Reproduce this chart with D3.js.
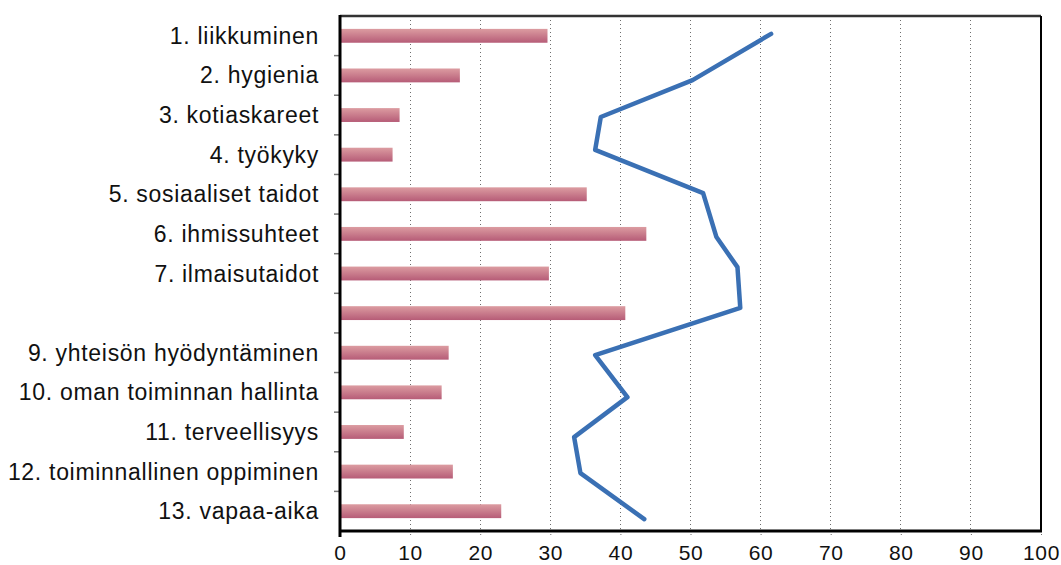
<!DOCTYPE html>
<html>
<head>
<meta charset="utf-8">
<script src="https://cdn.jsdelivr.net/npm/d3@7/dist/d3.min.js"></script>
<style>
  html, body { margin: 0; padding: 0; background: #fff; }
  svg { display: block; }
  text { font-family: "Liberation Sans", Arial, sans-serif; fill: #111; }
</style>
</head>
<body>
<svg id="chart" width="1061" height="565"></svg>
<script>
const categories = [
  "1. liikkuminen", "2. hygienia", "3. kotiaskareet", "4. työkyky",
  "5. sosiaaliset taidot", "6. ihmissuhteet", "7. ilmaisutaidot", "",
  "9. yhteisön hyödyntäminen", "10. oman toiminnan hallinta",
  "11. terveellisyys", "12. toiminnallinen oppiminen", "13. vapaa-aika"
];
const barValues = [29.6, 17.1, 8.5, 7.5, 35.2, 43.7, 29.8, 40.7, 15.5, 14.5, 9.1, 16.1, 23.0];
const lineValues = [61.5, 50.3, 37.2, 36.4, 51.8, 53.7, 56.7, 57.1, 36.4, 41.0, 33.4, 34.3, 43.4];
// vertical position of each line point, in category units (1 = first row)
const lineRows = [0.95, 2.12, 3.05, 3.88, 4.97, 6.08, 6.84, 7.87, 9.06, 10.12, 11.13, 12.04, 13.2];
const xTicks = [0, 10, 20, 30, 40, 50, 60, 70, 80, 90, 100];

const svg = d3.select("#chart");
const m = { left: 340, top: 16, right: 1041, bottom: 531 };

const x = d3.scaleLinear().domain([0, 100]).range([m.left, m.right]);
const y = d3.scaleBand().domain(categories.map((c, i) => i))
  .range([m.top, m.bottom]).paddingInner(0.65).paddingOuter(0.325);
const yRow = d3.scaleLinear().domain([0.5, categories.length + 0.5]).range([m.top, m.bottom]);

const defs = svg.append("defs");
const grad = defs.append("linearGradient").attr("id", "barGrad")
  .attr("x1", 0).attr("y1", 0).attr("x2", 0).attr("y2", 1);
grad.append("stop").attr("offset", "0%").attr("stop-color", "#dc9ca1");
grad.append("stop").attr("offset", "100%").attr("stop-color", "#b65c77");

// gridlines
svg.append("g").selectAll("line").data(xTicks.filter(t => t > 0 && t < 100)).join("line")
  .attr("x1", d => x(d)).attr("x2", d => x(d))
  .attr("y1", m.top).attr("y2", m.bottom)
  .attr("stroke", "#6e6e6e").attr("stroke-width", 1).attr("stroke-dasharray", "1,3")
  .attr("shape-rendering", "crispEdges");

// bars
svg.append("g").selectAll("rect").data(barValues).join("rect")
  .attr("x", x(0)).attr("y", (d, i) => y(i))
  .attr("width", d => x(d) - x(0)).attr("height", y.bandwidth())
  .attr("fill", "url(#barGrad)");

// frame
svg.append("line").attr("x1", m.left).attr("x2", m.right).attr("y1", m.top).attr("y2", m.top)
  .attr("stroke", "#333").attr("stroke-width", 2.5);
svg.append("line").attr("x1", m.right).attr("x2", m.right).attr("y1", m.top).attr("y2", m.bottom)
  .attr("stroke", "#000").attr("stroke-width", 2);

// x axis
const xAxis = svg.append("g").attr("transform", `translate(0,${m.bottom})`)
  .call(d3.axisBottom(x).tickValues(xTicks).tickSize(6).tickPadding(8));
xAxis.select(".domain").remove();
xAxis.selectAll(".tick line").attr("stroke", "#6e6e6e").attr("stroke-dasharray", "1,2");
xAxis.selectAll(".tick text").attr("font-size", 21).attr("letter-spacing", 0.6).attr("fill", "#111")
  .style("font-family", "'Liberation Sans', Arial, sans-serif");

// y axis: labels and boundary ticks
const yg = svg.append("g");
yg.selectAll("text").data(categories).join("text")
  .attr("x", 319).attr("y", (d, i) => y(i) + y.bandwidth() / 2)
  .attr("dy", "0.35em").attr("text-anchor", "end")
  .attr("font-size", 23).attr("letter-spacing", 0.7)
  .text(d => d);
yg.selectAll("line").data(d3.range(1, categories.length)).join("line")
  .attr("x1", m.left - 6).attr("x2", m.left)
  .attr("y1", d => yRow(d + 0.5)).attr("y2", d => yRow(d + 0.5))
  .attr("stroke", "#777").attr("stroke-width", 1.5);

svg.append("line").attr("x1", m.left).attr("x2", m.right + 1).attr("y1", m.bottom).attr("y2", m.bottom)
  .attr("stroke", "#000").attr("stroke-width", 3);
svg.append("line").attr("x1", m.left).attr("x2", m.left).attr("y1", m.top - 1).attr("y2", m.bottom + 6)
  .attr("stroke", "#000").attr("stroke-width", 3);

// line series
const line = d3.line().x(d => x(d.v)).y(d => yRow(d.r));
svg.append("path")
  .datum(lineValues.map((v, i) => ({ v, r: lineRows[i] })))
  .attr("d", line).attr("fill", "none")
  .attr("stroke", "#3a70b4").attr("stroke-width", 4.5)
  .attr("stroke-linejoin", "round").attr("stroke-linecap", "round");
</script>
</body>
</html>
